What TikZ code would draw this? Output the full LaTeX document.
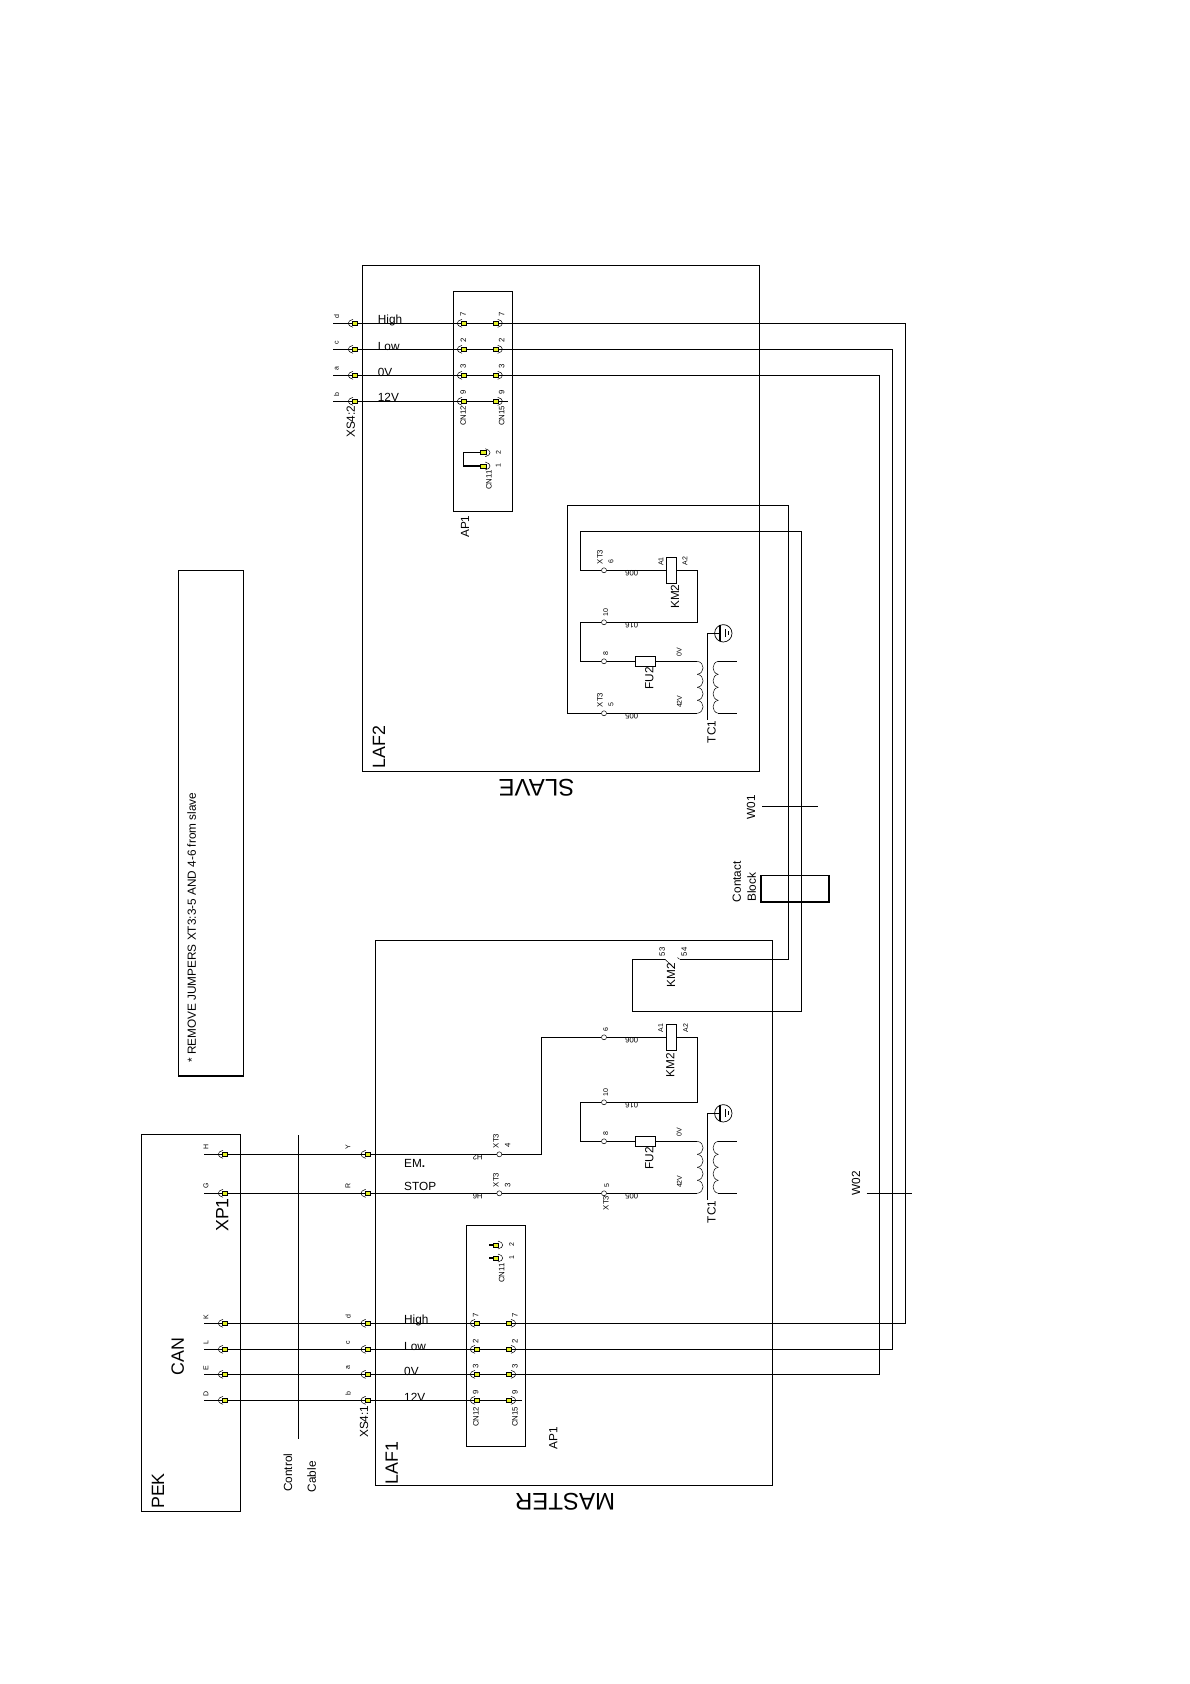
\documentclass[tikz,border=0pt]{standalone}
\usepackage{fontspec}
\setmainfont{Liberation Sans}
\usetikzlibrary{backgrounds}
\definecolor{pinyellow}{rgb}{0.90,0.95,0.15}
\tikzset{
  wire/.style = {draw = black, line width = 1.05pt},
  thinwire/.style = {draw = black, line width = 0.5pt},
  pinbox/.style = {draw = black, fill = pinyellow, line width = 0.7pt, inner sep = 0pt, minimum width = 5.4pt, minimum height = 4pt},
  term/.style = {circle, draw = black, fill = white, line width = 0.5pt, inner sep = 0pt, minimum size = 5pt},
  coilbox/.style = {draw = black, fill = white, line width = 0.9pt, inner sep = 0pt, minimum width = 10pt, minimum height = 25.5pt},
  fusebox/.style = {draw = black, fill = white, line width = 0.9pt, inner sep = 0pt, minimum width = 20pt, minimum height = 10.3pt},
  earthring/.style = {circle, draw = black, line width = 0.7pt, inner sep = 0pt, minimum size = 17.4pt},
  tinytxt/.style = {rotate = 90, inner sep = 0pt, font = \fontsize{7}{8}\selectfont},
  smalltxt/.style = {rotate = 90, inner sep = 0pt, font = \fontsize{7.8}{9}\selectfont},
  wirenum/.style = {rotate = 180, inner sep = 0pt, font = \fontsize{7.8}{9}\selectfont},
  midtxt/.style = {rotate = 90, inner sep = 0pt, font = \fontsize{11.8}{14}\selectfont},
  sigtxt/.style = {anchor = west, inner sep = 0pt, font = \fontsize{11.8}{14}\selectfont},
  largetxt/.style = {rotate = 90, inner sep = 0pt, font = \fontsize{17.8}{20}\selectfont},
  hugetxt/.style = {rotate = 180, inner sep = 0pt, font = \fontsize{24}{28}\selectfont}
}
\newcommand{\pinleft}[3]{
  \node[pinbox] (#1) at (#2,#3) {};
  \draw[thinwire] (#2-2,#3-4) .. controls (#2-8.3,#3-2.5) and (#2-8.3,#3+2.5) .. (#2-2,#3+4);
}
\newcommand{\pinright}[3]{
  \node[pinbox] (#1) at (#2,#3) {};
  \draw[thinwire] (#2+2,#3-4) .. controls (#2+8.3,#3-2.5) and (#2+8.3,#3+2.5) .. (#2+2,#3+4);
}
\begin{document}
\begin{tikzpicture}[x = 1pt, y = -1pt]
\useasboundingbox (0,0) rectangle (1190,1684);
% enclosures
\draw[wire] (362.3,265.3) rectangle (759.7,771.3);
\draw[wire] (375.5,940.3) rectangle (772.7,1485.3);
\draw[wire] (141.3,1134.3) rectangle (240.3,1511.3);
\draw[wire] (453.3,291.3) rectangle (512.7,511.3);
\draw[wire] (466.3,1225.3) rectangle (525.7,1446.3);
\draw[wire] (178.3,570.3) rectangle (243.3,1076);
% signal pins
\foreach \n/\ys/\ym/\tagS/\tagM in {7/323.3/1323.3/d/K, 2/349.3/1349.3/c/L, 3/375.3/1374.3/a/E, 9/401.3/1400.3/b/D} {
  \pinleft{xsS\n}{355}{\ys}
  \pinleft{apaS\n}{464}{\ys}
  \pinright{apbS\n}{495.7}{\ys}
  \pinleft{xpM\n}{225}{\ym}
  \pinleft{xsM\n}{367.7}{\ym}
  \pinleft{apaM\n}{477}{\ym}
  \pinright{apbM\n}{509}{\ym}
  \coordinate (stS\n) at (333.3,\ys);
  \coordinate (stM\n) at (204,\ym);
  \node[tinytxt] (tagS\n) at (336.7,\ys-6.6) {\tagS};
  \node[tinytxt] (tagA\n) at (348,\ym-6.6) {\tagS};
  \node[tinytxt] (tagP\n) at (206,\ym-6.6) {\tagM};
  \node[smalltxt] (numaS\n) at (463.3,\ys-8.6) {\n};
  \node[smalltxt] (numbS\n) at (501.7,\ys-8.6) {\n};
  \node[smalltxt] (numaM\n) at (475.7,\ym-8.4) {\n};
  \node[smalltxt] (numbM\n) at (515,\ym-8.4) {\n};
}
\foreach \n/\txt/\ys/\ym in {7/High/320.3/1320.5, 2/Low/346/1346, 3/0V/372/1371.7, 9/12V/397.5/1397.5} {
  \node[sigtxt] (sigS\n) at (377.7,\ys) {\txt};
  \node[sigtxt] (sigM\n) at (404,\ym) {\txt};
}
\foreach \s/\xa/\xb/\yone/\ytwo/\ybot/\ylab/\xapl/\yapl/\stubx in {S/483.3/489/466/452.7/480/498.3/465/526.7/463.3, M/496/501.7/1258/1245/1273/511.7/553.3/1438.3/489} {
  \pinright{cnA\s}{\xa}{\yone}
  \pinright{cnB\s}{\xa}{\ytwo}
  \node[smalltxt] (cnlab\s) at (\xb,\ybot) {CN11};
  \node[tinytxt] (cnone\s) at (\ylab,\yone) {1};
  \node[tinytxt] (cntwo\s) at (\ylab,\ytwo) {2};
  \node[midtxt] (apl\s) at (\xapl,\yapl) {AP1};
}
\node[smalltxt] (cnaS) at (463.3,415.7) {CN12};
\node[smalltxt] (cnbS) at (501.7,415.7) {CN15};
\node[smalltxt] (cnaM) at (476,1416.7) {CN12};
\node[smalltxt] (cnbM) at (515,1416.7) {CN15};
% control pins
\pinleft{xpH}{225}{1154.3}
\pinleft{xpG}{225}{1193.3}
\pinleft{xsY}{367.7}{1154.3}
\pinleft{xsR}{367.7}{1193.3}
\node[tinytxt] (tagH) at (206,1147) {H};
\node[tinytxt] (tagG) at (206,1186) {G};
\node[tinytxt] (tagY) at (348,1147) {Y};
\node[tinytxt] (tagR) at (348,1186) {R};
\coordinate (stH) at (204,1154.3);
\coordinate (stG) at (204,1193.3);
\node[term] (tfour) at (499.3,1154.3) {};
\node[term] (tthree) at (499.3,1193.3) {};
% relay and transformer
\foreach \s/\yb/\yc in {S/0/570.3, M/480/1037.3} {
  \node[term] (tsix\s) at (604,\yc) {};
  \node[term] (tten\s) at (604,622.3+\yb) {};
  \node[term] (teight\s) at (604,661.3+\yb) {};
  \node[term] (tfive\s) at (604,713.3+\yb) {};
  \node[coilbox] (km\s) at (671.5,\yc) {};
  \node[fusebox] (fu\s) at (645.7,661.3+\yb) {};
  \node[earthring] (earth\s) at (723.3,633.3+\yb) {};
  \coordinate (cten\s) at (697.3,622.3+\yb);
  \coordinate (lten\s) at (580.3,622.3+\yb);
  \coordinate (lei\s) at (580.3,661.3+\yb);
  \coordinate (tpa\s) at (697.3,661.3+\yb);
  \coordinate (tpb\s) at (697.3,713.3+\yb);
  \coordinate (ctop\s) at (707.3,633.3+\yb);
  \coordinate (cbot\s) at (707.3,719.5+\yb);
  \draw[wire] (cbot\s) -- (ctop\s) -- (720,633.3+\yb);
  \draw[wire] (earth\s.center) ++(-3.3,-8) -- ++(0,16);
  \draw[thinwire] (earth\s.center) ++(2.4,-4) -- ++(0,8);
  \draw[thinwire] (earth\s.center) ++(5,-2) -- ++(0,4);
  \foreach \k in {0,...,3} {
    \draw[thinwire] (697.3,661.3+\yb+13*\k) .. controls (705,662.3+\yb+13*\k) and (705,673.3+\yb+13*\k) .. (697.3,674.3+\yb+13*\k);
    \draw[thinwire] (718.3,661.3+\yb+13*\k) .. controls (711.3,662.3+\yb+13*\k) and (711.3,673.3+\yb+13*\k) .. (718.3,674.3+\yb+13*\k);
  }
  \draw[wire] (718.3,661.3+\yb) -- (737,661.3+\yb);
  \draw[wire] (718.3,713.3+\yb) -- (737,713.3+\yb);
  \node[wirenum] (numb\s) at (631.7,624.7+\yb) {016};
  \node[tinytxt] (tenlab\s) at (605.7,612.5+\yb) {10};
  \node[tinytxt] (eilab\s) at (605.7,653.2+\yb) {8};
  \node[midtxt] (fulab\s) at (649.3,678.5+\yb) {FU2};
  \node[tinytxt] (zerov\s) at (679.3,652.5+\yb) {0V};
  \node[tinytxt] (ftwov\s) at (679.3,701.7+\yb) {42V};
  \node[midtxt] (tclab\s) at (711.5,732+\yb) {TC1};
  \node[wirenum] (numc\s) at (631.7,716.3+\yb) {005};
}
% slave coil labels
\node[smalltxt] (xtsixS) at (600,557) {XT3};
\node[tinytxt] (sixS) at (611,562) {6};
\node[smalltxt] (xtfiveS) at (600,700) {XT3};
\node[tinytxt] (fiveS) at (611,705) {5};
\node[wirenum] (numaS) at (631.7,573) {006};
\node[tinytxt] (aoneS) at (661,561.7) {A1};
\node[tinytxt] (atwoS) at (685,561.3) {A2};
\node[midtxt] (kmlabS) at (675,596.7) {KM2};
% master coil labels
\node[tinytxt] (sixM) at (605.7,1029.3) {6};
\node[wirenum] (numaM) at (631.7,1040) {006};
\node[tinytxt] (aoneM) at (660.7,1028.3) {A1};
\node[tinytxt] (atwoM) at (685.7,1028.3) {A2};
\node[midtxt] (kmlabM) at (670.3,1065) {KM2};
\node[smalltxt] (xtfour) at (496,1141) {XT3};
\node[smalltxt] (four) at (507.7,1145.7) {4};
\node[wirenum] (htwo) at (477.7,1157) {H2};
\node[smalltxt] (xtthree) at (496,1180) {XT3};
\node[smalltxt] (three) at (507.7,1185) {3};
\node[wirenum] (hsix) at (477.7,1196) {H6};
\node[tinytxt] (fiveM) at (606.7,1185.7) {5};
\node[smalltxt] (xtfiveM) at (606,1203) {XT3};
% contact
\node[smalltxt] (cfiftythree) at (662.3,951.7) {53};
\node[smalltxt] (cfiftyfour) at (684.3,951.7) {54};
\node[midtxt] (kmlabC) at (671,975) {KM2};
\coordinate (cona) at (665,959.3);
\coordinate (conb) at (679.5,959.3);
\draw[thinwire] (cona) -- (675,968.7);
\draw[thinwire] (677.5,957.5) -- (conb);
% contact block and cable marks
\draw[wire] (760.7,875.7) rectangle (829.3,902);
\draw[line width = 1.7pt] (760.7,875.7) -- (760.7,902) -- (829.3,902) -- (829.3,875.7);
\coordinate (wonea) at (762.3,806.3);
\coordinate (woneb) at (817.7,806.3);
\draw[wire] (wonea) -- (woneb);
\coordinate (wtwoa) at (866.5,1193.3);
\coordinate (wtwob) at (911.7,1193.3);
\draw[wire] (wtwoa) -- (wtwob);
\coordinate (cablea) at (298.3,1135);
\coordinate (cableb) at (298.3,1439.3);
\draw[wire] (cablea) -- (cableb);
% labels
\node[largetxt] (laftwo) at (379,747) {LAF2};
\node[largetxt] (lafone) at (391.7,1463) {LAF1};
\node[largetxt] (peklab) at (158,1491) {PEK};
\node[largetxt] (canlab) at (177.7,1356.7) {CAN};
\node[largetxt] (xponelab) at (222.3,1215) {XP1};
\node[hugetxt] (slavelab) at (536.5,787.7) {SLAVE};
\node[hugetxt] (masterlab) at (565,1501.7) {MASTER};
\node[midtxt] (xstwo) at (350.7,421.7) {XS4:2};
\node[midtxt] (xsone) at (364,1421.7) {XS4:1};
\node[midtxt] (wonelab) at (751,807) {W01};
\node[midtxt] (wtwolab) at (856,1183) {W02};
\node[midtxt] (conlab) at (736.7,881.7) {Contact};
\node[midtxt] (blocklab) at (751.7,887.3) {Block};
\node[midtxt] (ctrllab) at (288,1472.7) {Control};
\node[midtxt] (cablelab) at (311.7,1476.7) {Cable};
\node[sigtxt] (emlab) at (404,1163.5) {EM\textbf{.}};
\node[sigtxt] (stoplab) at (404,1186.5) {STOP};
\node[midtxt, anchor = west] (notelab) at (191.7,1063) {* REMOVE JUMPERS XT3:3-5 AND 4-6 from slave};
% wires
\begin{scope}[on background layer]
\foreach \n/\ys/\ym/\xr in {7/323.3/1323.3/905.7, 2/349.3/1349.3/892.7, 3/375.3/1374.3/879.7} {
  \coordinate (railM\n) at (\xr,\ym);
  \draw[wire] (stS\n) -| (railM\n) -- (stM\n);
}
\draw[wire] (stS9) -- (507.7,401.3);
\draw[wire] (stM9) -- (521.7,1400.3);
\draw[wire] (stH) -- (tfour) -- (541.7,1154.3) |- (tsixM) -- (kmM);
\draw[wire] (stG) -- (tthree) -- (tfiveM) -- (tpbM);
\draw[wire] (tfiveS) -- (567.3,713.3) |- (788.7,505.3) |- (conb);
\draw[wire] (cona) -- (632.3,959.3) |- (801.7,1011.3) |- (580.3,531.3) |- (tsixS) -- (kmS);
\foreach \s in {S,M} {
  \draw[wire] (km\s) -| (cten\s) -- (tten\s) -- (lten\s) -- (lei\s) -- (teight\s) -- (fu\s) -- (tpa\s);
}
\draw[wire] (tfiveS) -- (tpbS);
\draw[wire] (cnAS) -- (463.3,466) -- (463.3,452.7) -- (cnBS);
\draw[wire] (cnAM) -- (489,1258);
\draw[wire] (cnBM) -- (489,1245);
\end{scope}
\end{tikzpicture}
\end{document}
